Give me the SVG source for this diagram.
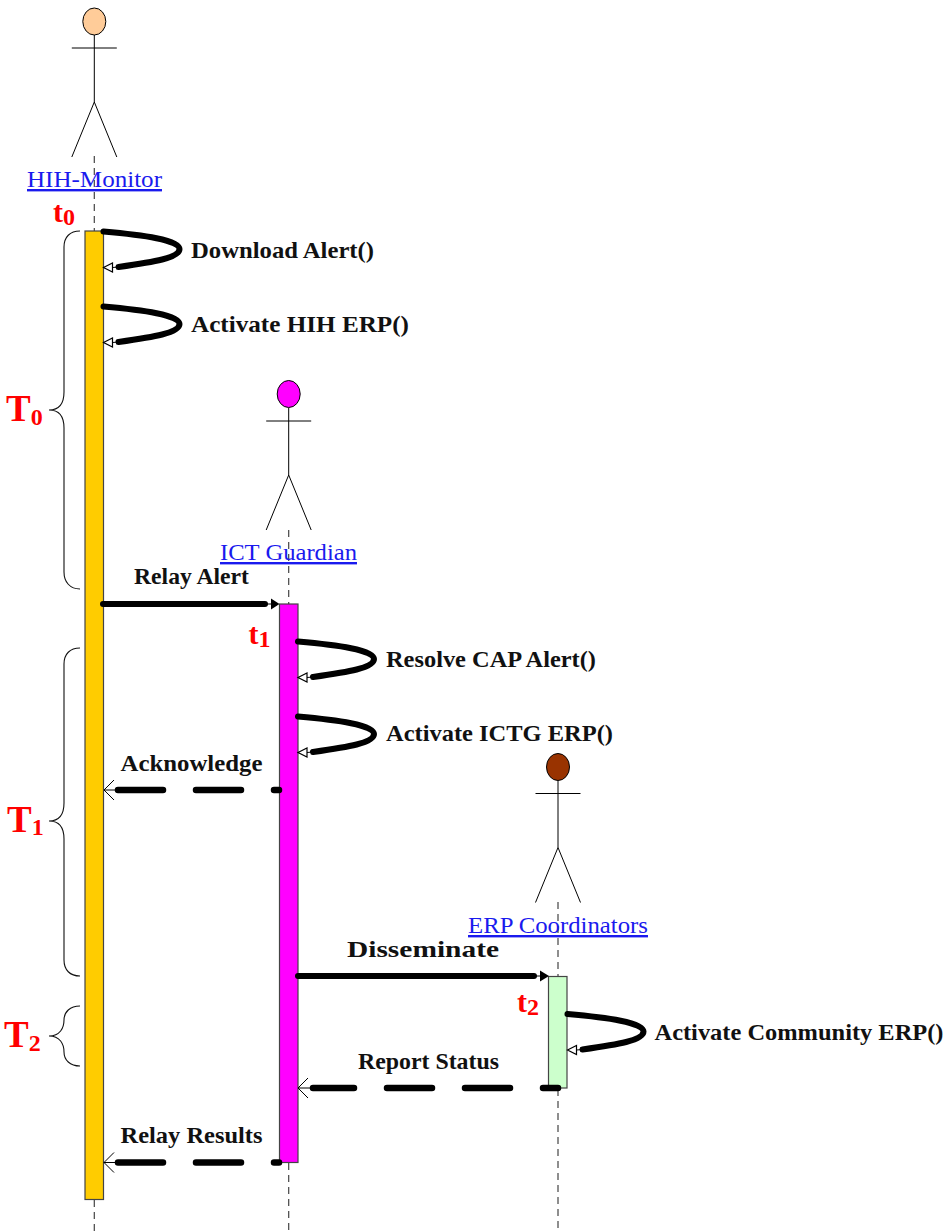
<svg xmlns="http://www.w3.org/2000/svg" width="944" height="1231" viewBox="0 0 944 1231">
<style>
.actor{fill:none;stroke:#000;stroke-width:1}
.life{fill:none;stroke:#444;stroke-width:1.2;stroke-dasharray:7 5}
.bar{stroke:#444;stroke-width:1.2}
.name{font-family:"Liberation Serif",serif;font-size:24px;fill:#1a1aee;text-decoration:underline}
.msg{font-family:"Liberation Serif",serif;font-size:22.500px;font-weight:bold;fill:#111}
.mark{font-family:"Liberation Serif",serif;font-weight:bold;fill:#f00}
.heavy{fill:none;stroke:#000;stroke-width:6;stroke-linecap:round}
.dash{fill:none;stroke:#000;stroke-width:6.500;stroke-linecap:round;stroke-dasharray:45 33}
.thin{fill:none;stroke:#000;stroke-width:1}
.brace{fill:none;stroke:#111;stroke-width:1.1}
</style>
<defs>
<g id="stick"><line class="actor" x1="0" y1="35" x2="0" y2="102"/><line class="actor" x1="-22.500" y1="48" x2="22.500" y2="48"/><path class="actor" d="M-22.500 157L0 102L22.500 157"/></g>
<g id="self"><path class="heavy" d="M0 0.500C40 4 76 9 76 18C76 27 50 31 15 36"/><path class="thin" d="M15 36L9 36.500"/><path d="M0 36.500L9 32V41Z" fill="#fff" stroke="#000" stroke-width="1.200"/></g>
</defs>
<g id="lifelines">
<path class="life" d="M94.300 156V231M94.300 1200V1231"/>
<path class="life" d="M288.700 530V604M288.700 1163V1231"/>
<path class="life" d="M558 902V976M558 1089V1231"/>
</g>
<g id="actor-hih"><use href="#stick" x="94.300"/><ellipse cx="94.300" cy="21.500" rx="11.500" ry="13.500" fill="#ffcc99" stroke="#000"/><text class="name" x="27" y="187" textLength="135" lengthAdjust="spacingAndGlyphs">HIH-Monitor</text></g>
<g id="actor-ict"><use href="#stick" x="288.700" y="373"/><ellipse cx="288.700" cy="394" rx="11.500" ry="13.500" fill="#ff00ff" stroke="#000"/><text class="name" x="220" y="560" textLength="137" lengthAdjust="spacingAndGlyphs">ICT Guardian</text></g>
<g id="actor-erp"><use href="#stick" x="558" y="745.500"/><ellipse cx="558" cy="767" rx="11.500" ry="13.500" fill="#993300" stroke="#000"/><text class="name" x="468" y="933" textLength="180" lengthAdjust="spacingAndGlyphs">ERP Coordinators</text></g>
<g id="bar-hih"><rect class="bar" x="85" y="231" width="18.500" height="968.500" fill="#ffcc00"/></g>
<g id="bar-ict"><rect class="bar" x="279.500" y="604" width="18.500" height="558.500" fill="#ff00ff"/></g>
<g id="bar-erp"><rect class="bar" x="548.500" y="976.500" width="18.500" height="111.500" fill="#ccffcc"/></g>
<g id="connectors">
<use href="#self" x="103.500" y="231"/>
<use href="#self" x="103.500" y="306"/>
<use href="#self" x="298" y="641"/>
<use href="#self" x="298" y="716"/>
<use href="#self" x="567.500" y="1013.500"/>
<path class="heavy" d="M103 604H265"/><path class="thin" d="M265 604H272"/><path d="M279.500 604L271 598.500V609.500Z"/>
<path class="heavy" d="M298 976H534"/><path class="thin" d="M534 976H541"/><path d="M549 976L540 970.500V981.500Z"/>
<path class="dash" d="M279 790H118" stroke-dashoffset="40"/><path class="thin" d="M114 780L104 790L114 800M104 790H118"/>
<path class="dash" d="M279 1162.500H118" stroke-dashoffset="40"/><path class="thin" d="M114 1152.500L104 1162.500L114 1172.500M104 1162.500H118"/>
<path class="dash" d="M558 1088H313" stroke-dashoffset="30"/><path class="thin" d="M308 1078L298 1088L308 1098M298 1088H312"/>
</g>
<g id="labels">
<text class="msg" x="191" y="257.500" textLength="183" lengthAdjust="spacingAndGlyphs">Download Alert()</text>
<text class="msg" x="191" y="331.500" textLength="218" lengthAdjust="spacingAndGlyphs">Activate HIH ERP()</text>
<text class="msg" x="134" y="583.500" textLength="115" lengthAdjust="spacingAndGlyphs">Relay Alert</text>
<text class="msg" x="386" y="666.500" textLength="210" lengthAdjust="spacingAndGlyphs">Resolve CAP Alert()</text>
<text class="msg" x="386" y="741" textLength="227" lengthAdjust="spacingAndGlyphs">Activate ICTG ERP()</text>
<text class="msg" x="120.500" y="770.500" textLength="142" lengthAdjust="spacingAndGlyphs">Acknowledge</text>
<text class="msg" x="347" y="956.500" font-size="24" style="font-size:24px" textLength="152" lengthAdjust="spacingAndGlyphs">Disseminate</text>
<text class="msg" x="654.500" y="1039.500" textLength="289" lengthAdjust="spacingAndGlyphs">Activate Community ERP()</text>
<text class="msg" x="358" y="1068.500" textLength="141" lengthAdjust="spacingAndGlyphs">Report Status</text>
<text class="msg" x="120.500" y="1143" textLength="142" lengthAdjust="spacingAndGlyphs">Relay Results</text>
</g>
<g id="marks">
<text class="mark" x="53" y="222" font-size="30">t<tspan font-size="24" dy="3">0</tspan></text>
<text class="mark" x="248.500" y="644" font-size="30">t<tspan font-size="24" dy="3">1</tspan></text>
<text class="mark" x="517" y="1012" font-size="30">t<tspan font-size="24" dy="3">2</tspan></text>
<text class="mark" x="6" y="421" font-size="37">T<tspan font-size="24" dy="4">0</tspan></text>
<text class="mark" x="7" y="832" font-size="37">T<tspan font-size="24" dy="3">1</tspan></text>
<text class="mark" x="4" y="1047" font-size="37">T<tspan font-size="24" dy="4">2</tspan></text>
</g>
<g id="braces">
<path class="brace" d="M80 231C70 231 64 237 64 247V392C64 402 60 410 49 410C60 410 64 418 64 428V572C64 582 70 589 80 589"/>
<path class="brace" d="M80 648C70 648 64 654 64 664V803C64 813 60 821 49 821C60 821 64 829 64 839V960C64 970 70 976 80 976"/>
<path class="brace" d="M80 1006C70 1006 64 1012 64 1020C64 1028 60 1036 49 1036C60 1036 64 1044 64 1052C64 1060 70 1066 80 1066"/>
</g>
</svg>
